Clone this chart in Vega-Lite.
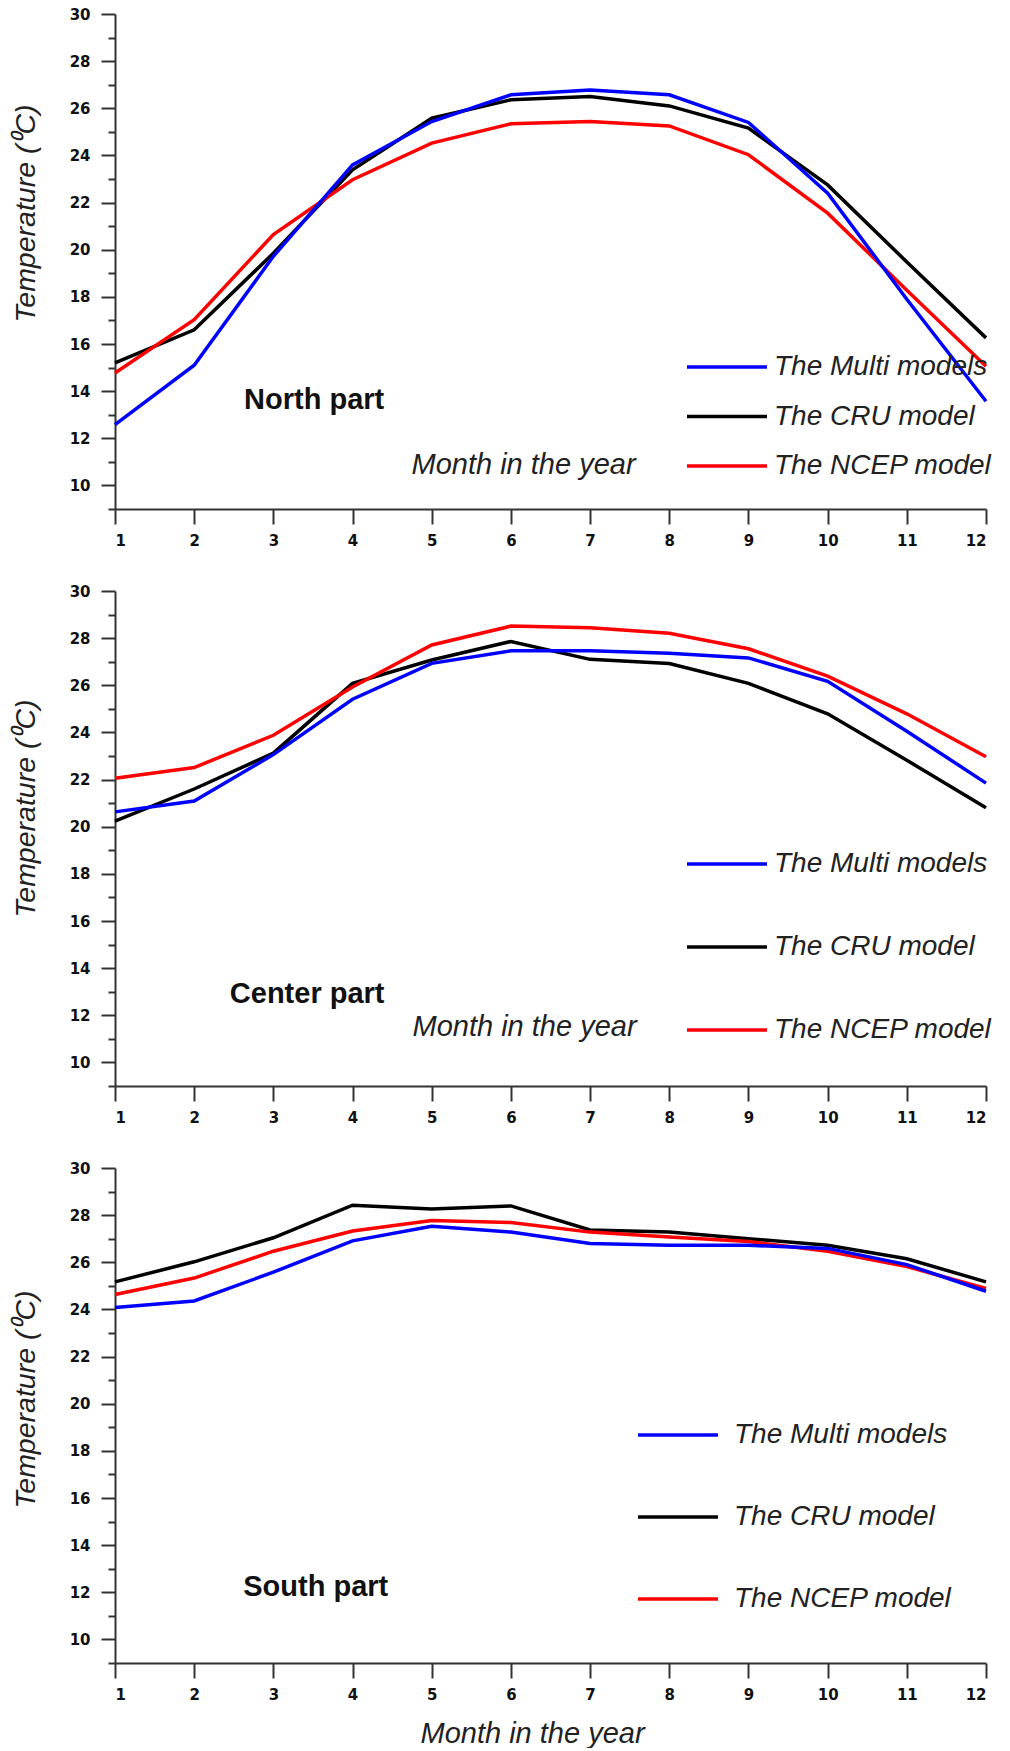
{
  "$schema": "https://vega.github.io/schema/vega-lite/v6.json",
  "background": "white",
  "padding": {"left": 11, "top": 7, "right": 5, "bottom": 0},
  "bounds": "flush",
  "spacing": 82,
  "datasets": {
    "temps": [
      {"part": "North", "model": "The CRU model", "month": 1, "temp": 15.2},
      {"part": "North", "model": "The CRU model", "month": 2, "temp": 16.6},
      {"part": "North", "model": "The CRU model", "month": 3, "temp": 19.85},
      {"part": "North", "model": "The CRU model", "month": 4, "temp": 23.39},
      {"part": "North", "model": "The CRU model", "month": 5, "temp": 25.58},
      {"part": "North", "model": "The CRU model", "month": 6, "temp": 26.36},
      {"part": "North", "model": "The CRU model", "month": 7, "temp": 26.5},
      {"part": "North", "model": "The CRU model", "month": 8, "temp": 26.1},
      {"part": "North", "model": "The CRU model", "month": 9, "temp": 25.16},
      {"part": "North", "model": "The CRU model", "month": 10, "temp": 22.75},
      {"part": "North", "model": "The CRU model", "month": 11, "temp": 19.48},
      {"part": "North", "model": "The CRU model", "month": 12, "temp": 16.26},
      {"part": "North", "model": "The NCEP model", "month": 1, "temp": 14.77},
      {"part": "North", "model": "The NCEP model", "month": 2, "temp": 17.03},
      {"part": "North", "model": "The NCEP model", "month": 3, "temp": 20.64},
      {"part": "North", "model": "The NCEP model", "month": 4, "temp": 22.97},
      {"part": "North", "model": "The NCEP model", "month": 5, "temp": 24.52},
      {"part": "North", "model": "The NCEP model", "month": 6, "temp": 25.34},
      {"part": "North", "model": "The NCEP model", "month": 7, "temp": 25.44},
      {"part": "North", "model": "The NCEP model", "month": 8, "temp": 25.25},
      {"part": "North", "model": "The NCEP model", "month": 9, "temp": 24.03},
      {"part": "North", "model": "The NCEP model", "month": 10, "temp": 21.55},
      {"part": "North", "model": "The NCEP model", "month": 11, "temp": 18.28},
      {"part": "North", "model": "The NCEP model", "month": 12, "temp": 15.06},
      {"part": "North", "model": "The Multi models", "month": 1, "temp": 12.58},
      {"part": "North", "model": "The Multi models", "month": 2, "temp": 15.1},
      {"part": "North", "model": "The Multi models", "month": 3, "temp": 19.72},
      {"part": "North", "model": "The Multi models", "month": 4, "temp": 23.6},
      {"part": "North", "model": "The Multi models", "month": 5, "temp": 25.44},
      {"part": "North", "model": "The Multi models", "month": 6, "temp": 26.57},
      {"part": "North", "model": "The Multi models", "month": 7, "temp": 26.78},
      {"part": "North", "model": "The Multi models", "month": 8, "temp": 26.57},
      {"part": "North", "model": "The Multi models", "month": 9, "temp": 25.4},
      {"part": "North", "model": "The Multi models", "month": 10, "temp": 22.4},
      {"part": "North", "model": "The Multi models", "month": 11, "temp": 17.9},
      {"part": "North", "model": "The Multi models", "month": 12, "temp": 13.57},
      {"part": "Center", "model": "The CRU model", "month": 1, "temp": 20.24},
      {"part": "Center", "model": "The CRU model", "month": 2, "temp": 21.6},
      {"part": "Center", "model": "The CRU model", "month": 3, "temp": 23.12},
      {"part": "Center", "model": "The CRU model", "month": 4, "temp": 26.08},
      {"part": "Center", "model": "The CRU model", "month": 5, "temp": 27.07},
      {"part": "Center", "model": "The CRU model", "month": 6, "temp": 27.86},
      {"part": "Center", "model": "The CRU model", "month": 7, "temp": 27.1},
      {"part": "Center", "model": "The CRU model", "month": 8, "temp": 26.92},
      {"part": "Center", "model": "The CRU model", "month": 9, "temp": 26.08},
      {"part": "Center", "model": "The CRU model", "month": 10, "temp": 24.79},
      {"part": "Center", "model": "The CRU model", "month": 11, "temp": 22.82},
      {"part": "Center", "model": "The CRU model", "month": 12, "temp": 20.8},
      {"part": "Center", "model": "The NCEP model", "month": 1, "temp": 22.06},
      {"part": "Center", "model": "The NCEP model", "month": 2, "temp": 22.51},
      {"part": "Center", "model": "The NCEP model", "month": 3, "temp": 23.88},
      {"part": "Center", "model": "The NCEP model", "month": 4, "temp": 25.93},
      {"part": "Center", "model": "The NCEP model", "month": 5, "temp": 27.71},
      {"part": "Center", "model": "The NCEP model", "month": 6, "temp": 28.51},
      {"part": "Center", "model": "The NCEP model", "month": 7, "temp": 28.44},
      {"part": "Center", "model": "The NCEP model", "month": 8, "temp": 28.21},
      {"part": "Center", "model": "The NCEP model", "month": 9, "temp": 27.55},
      {"part": "Center", "model": "The NCEP model", "month": 10, "temp": 26.39},
      {"part": "Center", "model": "The NCEP model", "month": 11, "temp": 24.79},
      {"part": "Center", "model": "The NCEP model", "month": 12, "temp": 22.97},
      {"part": "Center", "model": "The Multi models", "month": 1, "temp": 20.63},
      {"part": "Center", "model": "The Multi models", "month": 2, "temp": 21.09},
      {"part": "Center", "model": "The Multi models", "month": 3, "temp": 23.06},
      {"part": "Center", "model": "The Multi models", "month": 4, "temp": 25.41},
      {"part": "Center", "model": "The Multi models", "month": 5, "temp": 26.93},
      {"part": "Center", "model": "The Multi models", "month": 6, "temp": 27.46},
      {"part": "Center", "model": "The Multi models", "month": 7, "temp": 27.46},
      {"part": "Center", "model": "The Multi models", "month": 8, "temp": 27.36},
      {"part": "Center", "model": "The Multi models", "month": 9, "temp": 27.16},
      {"part": "Center", "model": "The Multi models", "month": 10, "temp": 26.17},
      {"part": "Center", "model": "The Multi models", "month": 11, "temp": 24.05},
      {"part": "Center", "model": "The Multi models", "month": 12, "temp": 21.85},
      {"part": "South", "model": "The CRU model", "month": 1, "temp": 25.17},
      {"part": "South", "model": "The CRU model", "month": 2, "temp": 26.02},
      {"part": "South", "model": "The CRU model", "month": 3, "temp": 27.04},
      {"part": "South", "model": "The CRU model", "month": 4, "temp": 28.42},
      {"part": "South", "model": "The CRU model", "month": 5, "temp": 28.26},
      {"part": "South", "model": "The CRU model", "month": 6, "temp": 28.39},
      {"part": "South", "model": "The CRU model", "month": 7, "temp": 27.37},
      {"part": "South", "model": "The CRU model", "month": 8, "temp": 27.28},
      {"part": "South", "model": "The CRU model", "month": 9, "temp": 27.0},
      {"part": "South", "model": "The CRU model", "month": 10, "temp": 26.72},
      {"part": "South", "model": "The CRU model", "month": 11, "temp": 26.15},
      {"part": "South", "model": "The CRU model", "month": 12, "temp": 25.17},
      {"part": "South", "model": "The NCEP model", "month": 1, "temp": 24.63},
      {"part": "South", "model": "The NCEP model", "month": 2, "temp": 25.33},
      {"part": "South", "model": "The NCEP model", "month": 3, "temp": 26.47},
      {"part": "South", "model": "The NCEP model", "month": 4, "temp": 27.33},
      {"part": "South", "model": "The NCEP model", "month": 5, "temp": 27.77},
      {"part": "South", "model": "The NCEP model", "month": 6, "temp": 27.69},
      {"part": "South", "model": "The NCEP model", "month": 7, "temp": 27.28},
      {"part": "South", "model": "The NCEP model", "month": 8, "temp": 27.07},
      {"part": "South", "model": "The NCEP model", "month": 9, "temp": 26.88},
      {"part": "South", "model": "The NCEP model", "month": 10, "temp": 26.47},
      {"part": "South", "model": "The NCEP model", "month": 11, "temp": 25.82},
      {"part": "South", "model": "The NCEP model", "month": 12, "temp": 24.89},
      {"part": "South", "model": "The Multi models", "month": 1, "temp": 24.08},
      {"part": "South", "model": "The Multi models", "month": 2, "temp": 24.36},
      {"part": "South", "model": "The Multi models", "month": 3, "temp": 25.58},
      {"part": "South", "model": "The Multi models", "month": 4, "temp": 26.91},
      {"part": "South", "model": "The Multi models", "month": 5, "temp": 27.53},
      {"part": "South", "model": "The Multi models", "month": 6, "temp": 27.28},
      {"part": "South", "model": "The Multi models", "month": 7, "temp": 26.8},
      {"part": "South", "model": "The Multi models", "month": 8, "temp": 26.72},
      {"part": "South", "model": "The Multi models", "month": 9, "temp": 26.72},
      {"part": "South", "model": "The Multi models", "month": 10, "temp": 26.59},
      {"part": "South", "model": "The Multi models", "month": 11, "temp": 25.9},
      {"part": "South", "model": "The Multi models", "month": 12, "temp": 24.77}
    ],
    "notes": [
      {"part": "North", "label": "North part", "month": 2.63, "temp": 13.24},
      {"part": "Center", "label": "Center part", "month": 2.45, "temp": 12.51},
      {"part": "South", "label": "South part", "month": 2.62, "temp": 11.84}
    ]
  },
  "config": {
    "view": {"stroke": null},
    "axis": {
      "domainColor": "#333333", "tickColor": "#333333", "domainWidth": 2, "tickWidth": 2,
      "labelFont": "DejaVu Sans", "labelFontWeight": "bold", "labelFontSize": 15, "labelColor": "#111111",
      "grid": false,
      "titleFont": "Liberation Sans", "titleFontStyle": "italic", "titleFontWeight": "normal", "titleFontSize": 28.5, "titleColor": "#222222"
    },
    "legend": {
      "title": null, "orient": "none", "symbolType": "stroke", "symbolSize": 6400, "symbolStrokeWidth": 3.5,
      "labelFont": "Liberation Sans", "labelFontStyle": "italic", "labelFontSize": 28, "labelColor": "#222222",
      "labelLimit": 0, "padding": 0, "clipHeight": 30
    }
  },
  "resolve": {"legend": {"color": "independent"}},
  "vconcat": [
    {
      "width": 871, "height": 495,
      "resolve": {"axis": {"y": "independent"}},
      "layer": [
        {
          "data": {"name": "temps"},
          "transform": [{"filter": "datum.part === 'North'"}],
          "mark": {"type": "line", "strokeWidth": 3.5},
          "encoding": {
            "x": {"field": "month", "type": "quantitative", "scale": {"domain": [1, 12], "nice": false},
              "axis": {"values": [1,2,3,4,5,6,7,8,9,10,11,12], "format": "d", "tickSize": 15, "labelPadding": 9, "labelAngle": 0,
                "title": "Month in the year", "titleFontSize": 29, "titleX": 408, "titleY": -36, "titleBaseline": "alphabetic", "titleAlign": "center"}},
            "y": {"field": "temp", "type": "quantitative", "scale": {"domain": [9, 30], "nice": false, "zero": false},
              "axis": {"values": [10,12,14,16,18,20,22,24,26,28,30], "tickSize": 14, "labelPadding": 11,
                "title": "Temperature (⁰C)", "titleX": -81, "titleY": 199, "titleAngle": 270, "titleBaseline": "alphabetic", "titleAlign": "center"}},
            "color": {"field": "model", "type": "nominal",
              "scale": {"domain": ["The Multi models", "The CRU model", "The NCEP model"], "range": ["#0000ff", "#000000", "#ff0000"]},
              "legend": {"legendX": 570, "legendY": 338, "rowPadding": 19.5, "labelOffset": 5}}
          }
        },
        {
          "data": {"name": "notes"},
          "transform": [{"filter": "datum.part === 'North'"}],
          "mark": {"type": "text", "align": "left", "baseline": "alphabetic", "font": "Liberation Sans", "fontWeight": "bold", "fontSize": 29, "color": "#111111"},
          "encoding": {
            "x": {"field": "month", "type": "quantitative"},
            "y": {"field": "temp", "type": "quantitative",
              "axis": {"orient": "left", "values": [9,11,13,15,17,19,21,23,25,27,29], "tickSize": 7, "labels": false, "domain": false, "title": null}},
            "text": {"field": "label"}
          }
        }
      ]
    },
    {
      "width": 871, "height": 495,
      "resolve": {"axis": {"y": "independent"}},
      "layer": [
        {
          "data": {"name": "temps"},
          "transform": [{"filter": "datum.part === 'Center'"}],
          "mark": {"type": "line", "strokeWidth": 3.5},
          "encoding": {
            "x": {"field": "month", "type": "quantitative", "scale": {"domain": [1, 12], "nice": false},
              "axis": {"values": [1,2,3,4,5,6,7,8,9,10,11,12], "format": "d", "tickSize": 15, "labelPadding": 9, "labelAngle": 0,
                "title": "Month in the year", "titleFontSize": 29, "titleX": 409, "titleY": -51, "titleBaseline": "alphabetic", "titleAlign": "center"}},
            "y": {"field": "temp", "type": "quantitative", "scale": {"domain": [9, 30], "nice": false, "zero": false},
              "axis": {"values": [10,12,14,16,18,20,22,24,26,28,30], "tickSize": 14, "labelPadding": 11,
                "title": "Temperature (⁰C)", "titleX": -81, "titleY": 217, "titleAngle": 270, "titleBaseline": "alphabetic", "titleAlign": "center"}},
            "color": {"field": "model", "type": "nominal",
              "scale": {"domain": ["The Multi models", "The CRU model", "The NCEP model"], "range": ["#0000ff", "#000000", "#ff0000"]},
              "legend": {"legendX": 570, "legendY": 258, "rowPadding": 53, "labelOffset": 5}}
          }
        },
        {
          "data": {"name": "notes"},
          "transform": [{"filter": "datum.part === 'Center'"}],
          "mark": {"type": "text", "align": "left", "baseline": "alphabetic", "font": "Liberation Sans", "fontWeight": "bold", "fontSize": 29, "color": "#111111"},
          "encoding": {
            "x": {"field": "month", "type": "quantitative"},
            "y": {"field": "temp", "type": "quantitative",
              "axis": {"orient": "left", "values": [9,11,13,15,17,19,21,23,25,27,29], "tickSize": 7, "labels": false, "domain": false, "title": null}},
            "text": {"field": "label"}
          }
        }
      ]
    },
    {
      "width": 871, "height": 495,
      "resolve": {"axis": {"y": "independent"}},
      "layer": [
        {
          "data": {"name": "temps"},
          "transform": [{"filter": "datum.part === 'South'"}],
          "mark": {"type": "line", "strokeWidth": 3.5},
          "encoding": {
            "x": {"field": "month", "type": "quantitative", "scale": {"domain": [1, 12], "nice": false},
              "axis": {"values": [1,2,3,4,5,6,7,8,9,10,11,12], "format": "d", "tickSize": 15, "labelPadding": 9, "labelAngle": 0,
                "title": "Month in the year", "titleFontSize": 29, "titleX": 417, "titleY": 79, "titleBaseline": "alphabetic", "titleAlign": "center"}},
            "y": {"field": "temp", "type": "quantitative", "scale": {"domain": [9, 30], "nice": false, "zero": false},
              "axis": {"values": [10,12,14,16,18,20,22,24,26,28,30], "tickSize": 14, "labelPadding": 11,
                "title": "Temperature (⁰C)", "titleX": -81, "titleY": 231, "titleAngle": 270, "titleBaseline": "alphabetic", "titleAlign": "center"}},
            "color": {"field": "model", "type": "nominal",
              "scale": {"domain": ["The Multi models", "The CRU model", "The NCEP model"], "range": ["#0000ff", "#000000", "#ff0000"]},
              "legend": {"legendX": 521, "legendY": 252, "rowPadding": 52, "labelOffset": 14}}
          }
        },
        {
          "data": {"name": "notes"},
          "transform": [{"filter": "datum.part === 'South'"}],
          "mark": {"type": "text", "align": "left", "baseline": "alphabetic", "font": "Liberation Sans", "fontWeight": "bold", "fontSize": 29, "color": "#111111"},
          "encoding": {
            "x": {"field": "month", "type": "quantitative"},
            "y": {"field": "temp", "type": "quantitative",
              "axis": {"orient": "left", "values": [9,11,13,15,17,19,21,23,25,27,29], "tickSize": 7, "labels": false, "domain": false, "title": null}},
            "text": {"field": "label"}
          }
        }
      ]
    }
  ]
}
